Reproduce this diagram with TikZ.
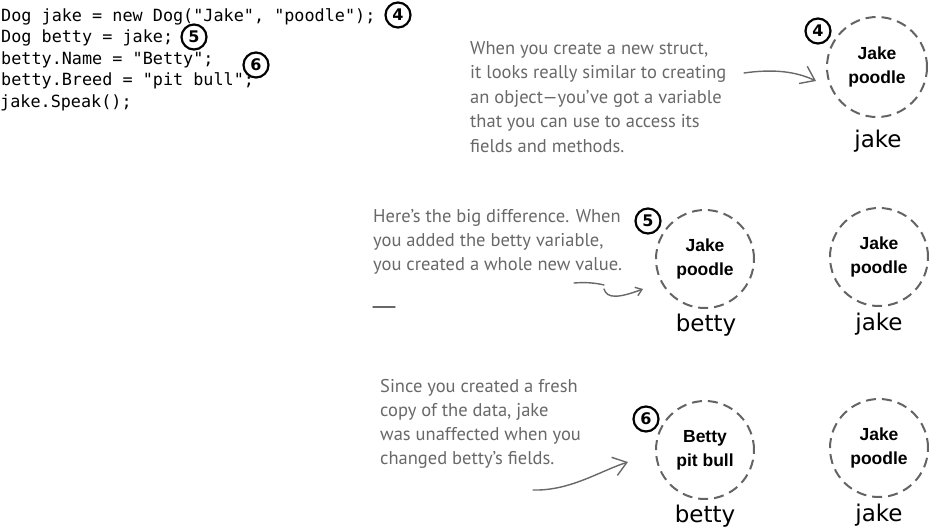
\documentclass[tikz,border=0pt]{standalone}
\usepackage{fontspec}
\setmainfont{Liberation Sans}
\newfontfamily\codefont{DejaVu Sans Mono}
\newfontfamily\handfont{PT Sans}
\newfontfamily\labfont{DejaVu Sans}
\usetikzlibrary{arrows.meta}
\definecolor{pen}{RGB}{104,104,104}
\definecolor{dashcol}{RGB}{100,100,100}
\begin{document}
\begin{tikzpicture}[x=1pt,y=-1pt,
  codeline/.style={anchor=base west, inner sep=0, font=\codefont\fontsize{16.8}{20}\selectfont},
  handline/.style={anchor=base west, inner sep=0, text=pen, font=\handfont\fontsize{18.5}{20}\selectfont},
  valuebox/.style={circle, draw=dashcol, line width=2pt, dash pattern=on 10pt off 6pt, minimum size=98pt, inner sep=0pt, align=center, font=\bfseries\fontsize{17.5}{24}\selectfont},
  varlabel/.style={anchor=base, inner sep=0pt, font=\labfont\fontsize{23}{26}\selectfont},
  stepnum/.style={circle, draw, line width=2.2pt, minimum size=25pt, inner sep=0pt, font=\labfont\bfseries\fontsize{16}{16}\selectfont},
  pointer/.style={draw=pen, line width=1.4pt, line cap=round, -{Straight Barb[length=13pt, width=19pt, line width=1.4pt]}},
  smallpointer/.style={draw=pen, line width=1.4pt, line cap=round, -{Straight Barb[length=6pt, width=9pt, line width=1.4pt]}},
  penline/.style={draw=pen, line width=1.4pt, line cap=round}
]
\useasboundingbox (0,0) rectangle (935,531);

% code
\node[codeline] (c1) at (1,21) {Dog jake = new Dog("Jake", "poodle");};
\node[codeline] (c2) at (1,42.5) {Dog betty = jake;};
\node[codeline] (c3) at (1,64) {betty.Name = "Betty";};
\node[codeline] (c4) at (1,85.5) {betty.Breed = "pit bull";};
\node[codeline] (c5) at (0,107) {jake.Speak();};

% step numbers in code
\node[stepnum] (s4) at (398,15) {4};
\node[stepnum] (s5) at (194,37) {5};
\node[stepnum] (s6) at (256,65) {6};

% annotation 1
\node[handline] (n11) at (470,54) {When you create a new struct,};
\node[handline] (n12) at (470,78.5) {it looks really similar to creating};
\node[handline] (n13) at (470,103) {an object—you’ve got a variable};
\node[handline] (n14) at (470,127.5) {that you can use to access its};
\node[handline] (n15) at (470,152) {fields and methods.};

% annotation 2
\node[handline] (n21) at (373,222) {Here’s the big difference. When};
\node[handline] (n22) at (373,246) {you added the betty variable,};
\node[handline] (n23) at (373,270) {you created a whole new value.};

% annotation 3
\node[handline] (n31) at (380,392) {Since you created a fresh};
\node[handline] (n32) at (380,416) {copy of the data, jake};
\node[handline] (n33) at (380,440) {was unaffected when you};
\node[handline] (n34) at (380,464) {changed betty’s fields.};

% values
\node[valuebox, minimum size=100pt] (v4) at (877,67) {Jake\\poodle};
\node[varlabel] (l4) at (878,147) {jake};
\node[stepnum] (t4) at (818,31) {4};

\node[valuebox] (v5b) at (705,259) {Jake\\poodle};
\node[varlabel] (l5b) at (706,331) {betty};
\node[stepnum] (t5) at (648,221) {5};
\node[valuebox] (v5j) at (879,257) {Jake\\poodle};
\node[varlabel] (l5j) at (879,330) {jake};

\node[valuebox] (v6b) at (705,450) {Betty\\pit bull};
\node[varlabel] (l6b) at (705,522) {betty};
\node[stepnum] (t6) at (646,419) {6};
\node[valuebox] (v6j) at (879,448) {Jake\\poodle};
\node[varlabel] (l6j) at (879,521) {jake};

% pointers
\coordinate (a1s) at (744,73);
\coordinate (a1e) at (816,81);
\draw[pointer] (a1s) .. controls (772,69) and (795,71) .. (a1e);

\coordinate (u1) at (574,283);
\coordinate (u2) at (604,285);
\draw[penline] (u1) .. controls (586,282) and (596,283) .. (u2);
\coordinate (a2s) at (604,289);
\coordinate (a2e) at (643,289);
\draw[smallpointer] (a2s) .. controls (607,299) and (619,298) .. (a2e);

\coordinate (d1) at (373,307);
\coordinate (d2) at (395,307);
\draw[penline] (d1) -- (d2);

\coordinate (a3s) at (533,490);
\coordinate (a3e) at (628,462);
\draw[pointer] (a3s) .. controls (570,491) and (600,471) .. (a3e);
\end{tikzpicture}
\end{document}
